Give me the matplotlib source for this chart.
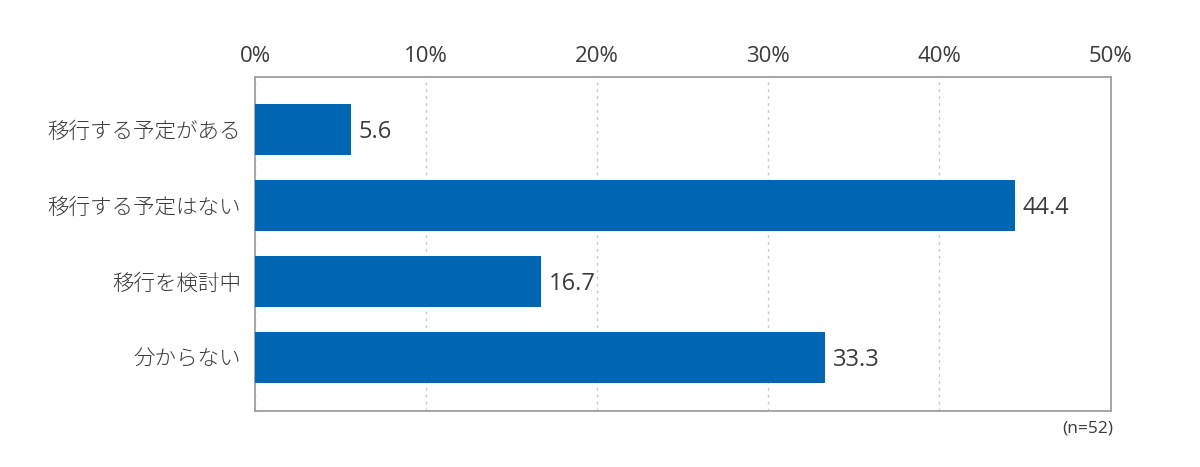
import matplotlib
matplotlib.use('Agg')
import matplotlib.pyplot as plt
import numpy as np

plt.rcParams['font.family'] = ['Noto Sans CJK JP', 'DejaVu Sans']

categories = ['移行する予定がある', '移行する予定はない', '移行を検討中', '分からない']
values = [5.6, 44.4, 16.7, 33.3]
tick_values = [0, 10, 20, 30, 40, 50]
tick_labels = ['0%', '10%', '20%', '30%', '40%', '50%']
note = '(n=52)'

text_color = '#3a3a3a'
bar_color = '#0066b4'
num_font = ['Open Sans', 'DejaVu Sans']

fig = plt.figure(figsize=(12, 4.67), dpi=100)
ax = fig.add_axes([0.2125, 0.120, 0.7130, 0.715])

y = np.arange(len(categories))
ax.barh(y, values, height=0.67, color=bar_color, zorder=3)

for yi, v in zip(y, values):
    ax.text(v + 0.45, yi + 0.04, f'{v:.1f}', va='center', ha='left',
            fontsize=17, color=text_color, family=num_font)

ax.set_xlim(0, 50)
ax.set_ylim(3.71, -0.69)
ax.set_yticks(y)
ax.set_yticklabels(categories, fontsize=15.5, color=text_color, fontweight='light')
ax.set_xticks(tick_values)
ax.set_xticklabels(tick_labels, fontsize=16, color=text_color, family=num_font)
ax.xaxis.tick_top()
ax.tick_params(axis='both', length=0)
ax.tick_params(axis='x', pad=7)
ax.tick_params(axis='y', pad=10)

ax.grid(axis='x', color='#c8c8c8', linestyle=(0, (2, 3)), linewidth=1, zorder=0)
for s in ax.spines.values():
    s.set_color('#a0a0a0')
    s.set_linewidth(1.3)

fig.text(0.928, 0.083, note, ha='right', va='center', fontsize=12.5,
         color=text_color, family=num_font)

fig.savefig('out.png', dpi=100)
